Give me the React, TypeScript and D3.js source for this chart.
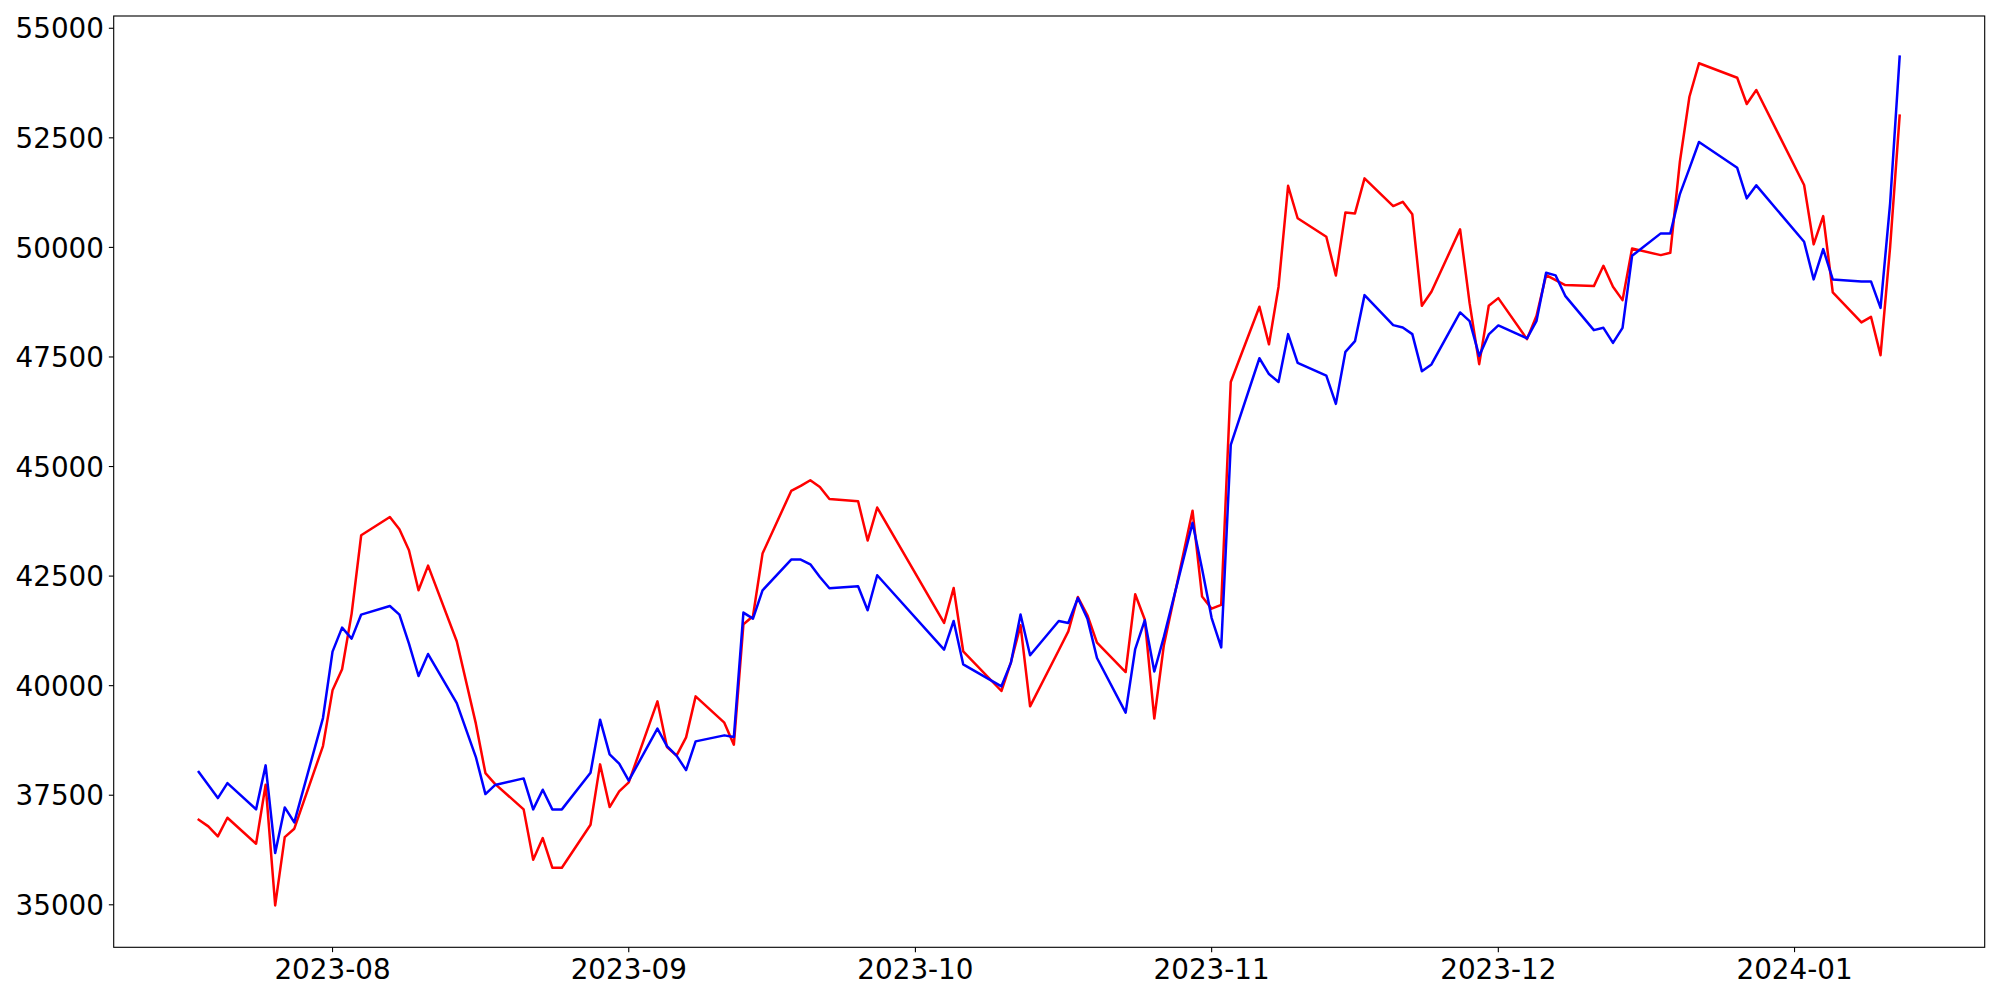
import React from 'react';
import * as d3 from 'd3';

const dates: string[] = [
  '2023-07-18','2023-07-19','2023-07-20','2023-07-21','2023-07-24','2023-07-25','2023-07-26','2023-07-27','2023-07-28','2023-07-31',
  '2023-08-01','2023-08-02','2023-08-03','2023-08-04','2023-08-07','2023-08-08','2023-08-09','2023-08-10','2023-08-11','2023-08-14',
  '2023-08-16','2023-08-17','2023-08-18','2023-08-21','2023-08-22','2023-08-23','2023-08-24','2023-08-25','2023-08-28','2023-08-29',
  '2023-08-30','2023-08-31','2023-09-01','2023-09-04','2023-09-05','2023-09-06','2023-09-07','2023-09-08','2023-09-11','2023-09-12',
  '2023-09-13','2023-09-14','2023-09-15','2023-09-18','2023-09-19','2023-09-20','2023-09-21','2023-09-22','2023-09-25','2023-09-26',
  '2023-09-27','2023-10-04','2023-10-05','2023-10-06','2023-10-10','2023-10-11','2023-10-12','2023-10-13','2023-10-16','2023-10-17',
  '2023-10-18','2023-10-19','2023-10-20','2023-10-23','2023-10-24','2023-10-25','2023-10-26','2023-10-27','2023-10-30','2023-10-31',
  '2023-11-01','2023-11-02','2023-11-03','2023-11-06','2023-11-07','2023-11-08','2023-11-09','2023-11-10','2023-11-13','2023-11-14',
  '2023-11-15','2023-11-16','2023-11-17','2023-11-20','2023-11-21','2023-11-22','2023-11-23','2023-11-24','2023-11-27','2023-11-28',
  '2023-11-29','2023-11-30','2023-12-01','2023-12-04','2023-12-05','2023-12-06','2023-12-07','2023-12-08','2023-12-11','2023-12-12',
  '2023-12-13','2023-12-14','2023-12-15','2023-12-18','2023-12-19','2023-12-20','2023-12-21','2023-12-22','2023-12-26','2023-12-27',
  '2023-12-28','2024-01-02','2024-01-03','2024-01-04','2024-01-05','2024-01-08','2024-01-09','2024-01-10','2024-01-11','2024-01-12',
];

const redValues: number[] = [
  36941, 36789, 36560, 36987, 36393, 37741, 34985, 36544, 36736, 38622,
  39893, 40373, 41644, 43432, 43850, 43569, 43090, 42176, 42740, 41012,
  39133, 38005, 37760, 37177, 36028, 36522, 35846, 35846, 36827, 38204,
  37229, 37588, 37793, 39642, 38599, 38403, 38820, 39756, 39156, 38654,
  41400, 41583, 43014, 44443, 44558, 44688, 44535, 44261, 44208, 43311,
  44064, 41430, 42229, 40784, 39878, 40539, 41377, 39528, 40807, 41240,
  42023, 41606, 40982, 40311, 42085, 41510, 39250, 40923, 43991, 42033,
  41756, 41843, 46930, 48646, 47788, 49103, 51404, 50665, 50244, 49359,
  50799, 50776, 51575, 50943, 51041, 50754, 48667, 48987, 50411, 48722,
  47336, 48667, 48843, 47907, 48439, 49368, 49254, 49140, 49117, 49580,
  49101, 48797, 49977, 49824, 49877, 51955, 53438, 54201, 53872, 53272,
  53591, 51423, 50069, 50715, 48973, 48288, 48416, 47541, 50000, 53005,
];

const blueValues: number[] = [
  38028, 37732, 37435, 37777, 37177, 38181, 36179, 37222, 36880, 39261,
  40777, 41325, 41074, 41622, 41818, 41622, 40960, 40220, 40722, 39603,
  38371, 37526, 37732, 37884, 37177, 37626, 37177, 37177, 38014, 39224,
  38432, 38220, 37832, 39019, 38622, 38403, 38074, 38729, 38866, 38827,
  41667, 41530, 42176, 42877, 42877, 42770, 42480, 42222, 42268, 41720,
  42519, 40823, 41476, 40487, 39985, 40526, 41622, 40693, 41476, 41430,
  42001, 41530, 40631, 39384, 40836, 41492, 40323, 41113, 43715, 42660,
  41542, 40873, 45494, 47471, 47110, 46930, 48021, 47366, 47076, 46430,
  47617, 47861, 48911, 48226, 48174, 48021, 47176, 47329, 48516, 48318,
  47525, 48014, 48219, 47923, 48324, 49420, 49361, 48895, 48112, 48165,
  47822, 48165, 49808, 50320, 50320, 51217, 51804, 52404, 51817, 51119,
  51416, 50128, 49270, 49961, 49270, 49224, 49224, 48621, 51000, 54352,
];

const yTicks: number[] = [35000, 37500, 40000, 42500, 45000, 47500, 50000, 52500, 55000];
const xTickLabels: string[] = ['2023-08', '2023-09', '2023-10', '2023-11', '2023-12', '2024-01'];

export default function App() {
  const W = 2000;
  const H = 1000;
  const left = 113.7;
  const right = 1984.7;
  const top = 16;
  const bottom = 947.3;
  const fontSize = 27.8;
  const tickLen = 4.86;

  const parseDay = d3.utcParse('%Y-%m-%d');
  const parseMonth = d3.utcParse('%Y-%m');
  const parsed = dates.map((d) => parseDay(d) as Date);
  const t0 = +parsed[0];
  const t1 = +parsed[parsed.length - 1];
  const span = t1 - t0;

  const x = d3
    .scaleUtc()
    .domain([new Date(t0 - 0.05 * span), new Date(t1 + 0.05 * span)])
    .range([left, right]);
  const y = d3.scaleLinear().domain([34030, 55280]).range([bottom, top]);

  const makeLine = (vals: number[]) =>
    d3
      .line<number>()
      .x((_, i) => x(parsed[i]))
      .y((v) => y(v))(vals) as string;

  const font = "'DejaVu Sans', sans-serif";

  return (
    <svg
      width={W}
      height={H}
      viewBox={`0 0 ${W} ${H}`}
      style={{ position: 'absolute', left: 0, top: 0, background: '#fff' }}
    >
      <rect x={0} y={0} width={W} height={H} fill="#fff" />
      <g>
        <path d={makeLine(redValues)} fill="none" stroke="#ff0000" strokeWidth={2.5} strokeLinejoin="round" strokeLinecap="square" />
        <path d={makeLine(blueValues)} fill="none" stroke="#0000ff" strokeWidth={2.5} strokeLinejoin="round" strokeLinecap="square" />
      </g>
      <rect x={left} y={top} width={right - left} height={bottom - top} fill="none" stroke="#000" strokeWidth={1.11} />
      <g>
        {yTicks.map((t) => (
          <g key={`y${t}`}>
            <line x1={left - tickLen} x2={left} y1={y(t)} y2={y(t)} stroke="#000" strokeWidth={1.11} />
            <text
              x={left - tickLen - 4.86}
              y={y(t) + 0.3645 * fontSize}
              textAnchor="end"
              fontFamily={font}
              fontSize={fontSize}
              fill="#000"
            >
              {t}
            </text>
          </g>
        ))}
      </g>
      <g>
        {xTickLabels.map((lab) => {
          const d = parseMonth(lab) as Date;
          const px = x(d);
          return (
            <g key={`x${lab}`}>
              <line x1={px} x2={px} y1={bottom} y2={bottom + tickLen} stroke="#000" strokeWidth={1.11} />
              <text x={px} y={979} textAnchor="middle" fontFamily={font} fontSize={fontSize} fill="#000">
                {lab}
              </text>
            </g>
          );
        })}
      </g>
    </svg>
  );
}
